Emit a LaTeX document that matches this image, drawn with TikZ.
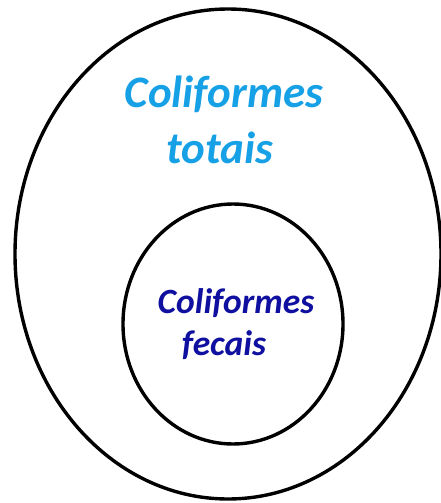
\documentclass[tikz,border=0pt]{standalone}
\usepackage{fontspec}
\setmainfont{Carlito}
\definecolor{lightblue}{RGB}{22,160,230}
\definecolor{darkblue}{RGB}{15,15,160}
\tikzset{
  ring/.style={draw=black, line width=3.4pt},
  bigtext/.style={font=\fontsize{45}{56}\selectfont\bfseries\itshape, text=lightblue, inner sep=0pt},
  smalltext/.style={font=\fontsize{35.5}{42}\selectfont\bfseries\itshape, text=darkblue, inner sep=0pt}
}
\begin{document}
\begin{tikzpicture}[x=1pt,y=-1pt]
\useasboundingbox[fill=white] (0,0) rectangle (441,503);
\draw[ring] (228,254) ellipse [x radius=213, y radius=245];
\draw[ring] (233,324) ellipse [x radius=110, y radius=120];
\node[bigtext, anchor=base] (t1) at (224,107) {Coliformes};
\node[bigtext, anchor=base] (t2) at (220,163) {totais};
\node[smalltext, anchor=base] (f1) at (236,313) {Coliformes};
\node[smalltext, anchor=base] (f2) at (224,355) {fecais};
\end{tikzpicture}
\end{document}
